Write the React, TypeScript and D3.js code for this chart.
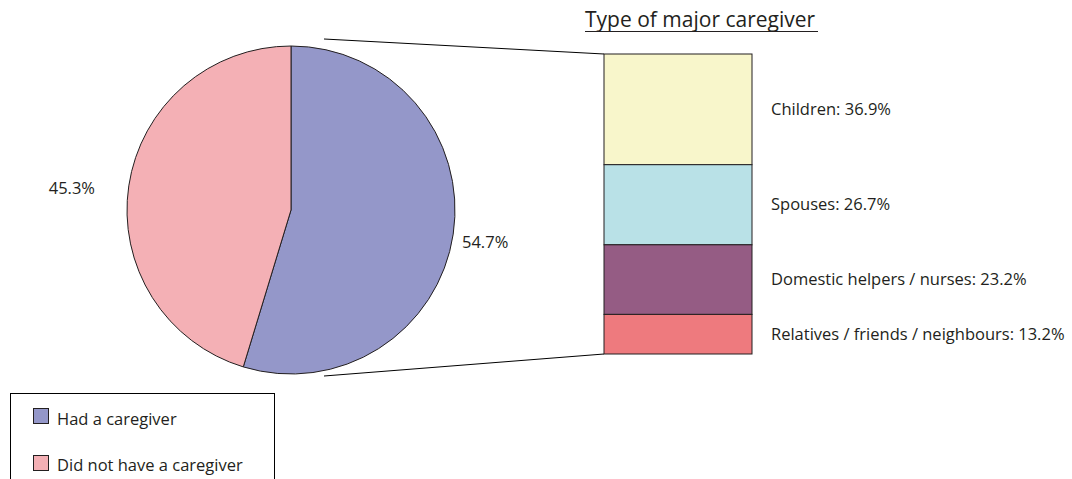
import React from "react";
import * as d3 from "d3";

const pieLabels = ["Had a caregiver", "Did not have a caregiver"];
const pieValues = [54.7, 45.3];
const pieColors = ["#9497C9", "#F4B0B5"];

const barLabels = ["Children", "Spouses", "Domestic helpers / nurses", "Relatives / friends / neighbours"];
const barValues = [36.9, 26.7, 23.2, 13.2];
const barColors = ["#F8F6CB", "#B9E1E7", "#955C84", "#EE7A7E"];

const title = "Type of major caregiver";

const W = 1072;
const H = 479;
const FONT = "'Open Sans', sans-serif";
const TXT = "#231F20";
const FS = 16.5;

export default function App() {
  const cx = 291, cy = 210, r = 164;
  const pie = d3.pie<number>().sort(null).value((d) => d)(pieValues);
  const arc = d3.arc<d3.PieArcDatum<number>>().innerRadius(0).outerRadius(r);

  const barX = 604, barW = 148, barTop = 54, barBottom = 354;
  const total = d3.sum(barValues);
  const y = d3.scaleLinear().domain([0, total]).range([barTop, barBottom]);
  const cum = d3.cumsum(barValues);

  const pieLabelPos = [
    { x: 462, y: 248, anchor: "start" },
    { x: 95, y: 194, anchor: "end" },
  ];

  return (
    <svg width={W} height={H} style={{ position: "absolute", left: 0, top: 0, background: "#fff" }} fontFamily={FONT}>
      <line x1={324} y1={39} x2={barX} y2={barTop} stroke="#000" strokeWidth={1} />
      <line x1={324} y1={376} x2={barX} y2={barBottom} stroke="#000" strokeWidth={1} />
      <g transform={`translate(${cx},${cy})`}>
        {pie.map((d, i) => (
          <path key={i} d={arc(d) || ""} fill={pieColors[i]} stroke="#231F20" strokeWidth={1} />
        ))}
      </g>
      {pie.map((d, i) => (
        <text key={i} x={pieLabelPos[i].x} y={pieLabelPos[i].y} textAnchor={pieLabelPos[i].anchor as any} fontSize={FS} fill={TXT}>
          {pieValues[i].toFixed(1)}%
        </text>
      ))}
      {barValues.map((v, i) => {
        const y0 = y(cum[i] - v);
        const y1 = y(cum[i]);
        return (
          <g key={i}>
            <rect x={barX} y={y0} width={barW} height={y1 - y0} fill={barColors[i]} stroke="#231F20" strokeWidth={1} />
            <text x={771} y={(y0 + y1) / 2 + 5.5} fontSize={FS} fill={TXT}>
              {barLabels[i]}: {v.toFixed(1)}%
            </text>
          </g>
        );
      })}
      <text x={585} y={27} fontSize={21} fill={TXT}>{title}</text>
      <line x1={585} y1={31.5} x2={818} y2={31.5} stroke={TXT} strokeWidth={1} />
      <rect x={10.5} y={393.5} width={264} height={100} fill="#fff" stroke="#000" strokeWidth={1} />
      {pieLabels.map((l, i) => (
        <g key={i}>
          <rect x={33.5} y={408.5 + i * 47} width={15} height={15} fill={pieColors[i]} stroke="#231F20" strokeWidth={1} />
          <text x={57} y={425 + i * 46} fontSize={FS} fill={TXT}>{l}</text>
        </g>
      ))}
    </svg>
  );
}
